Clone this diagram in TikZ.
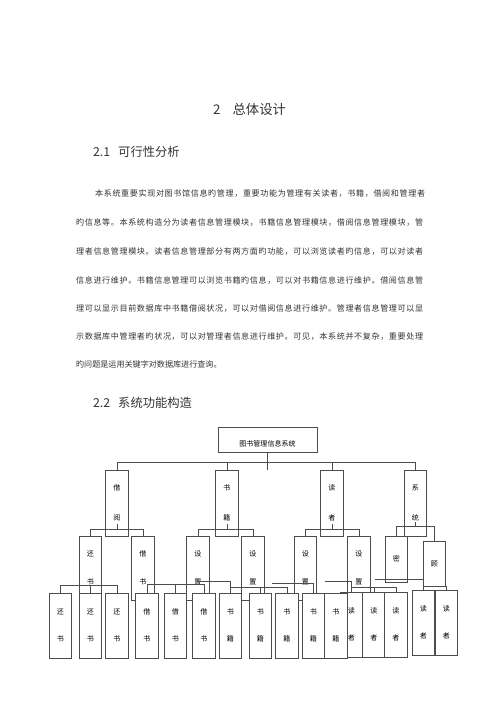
\documentclass[tikz,border=0pt]{standalone}
\usepackage{fontspec}
\setmainfont{Noto Sans CJK SC}
\usetikzlibrary{calc}

% spread the characters of one line over a given width
\def\spr#1{\sprA#1\relax}
\def\sprA#1{#1\sprB}
\def\sprB#1{\ifx\relax#1\else\hfill#1\expandafter\sprB\fi}

\begin{document}
\begin{tikzpicture}[
  x=0.05cm, y=-0.05cm,
  txt/.style={anchor=west, inner sep=0pt, text=black!80},
  para/.style={txt, font=\fontsize{11.5}{14}\selectfont},
  head/.style={txt, font=\fontsize{17.5}{20}\selectfont},
  rootbox/.style={draw=black!70, line width=0.9pt, fill=white, minimum width=4.95cm, minimum height=1.25cm, inner sep=0pt, text height=0.7cm, text depth=0pt, font=\fontsize{10}{12}\selectfont},
  lvlone/.style={draw=black!70, line width=0.9pt, fill=white, minimum width=1.12cm, minimum height=3.3cm, inner sep=0pt, align=center, font=\fontsize{10}{42}\selectfont},
  lvltwo/.style={lvlone, minimum height=3.2cm, font=\fontsize{10}{40}\selectfont},
  lvlthree/.style={lvlone, minimum height=3.25cm, font=\fontsize{10}{38}\selectfont},
  link/.style={draw=black!70, line width=0.9pt}
]
\useasboundingbox (0,0) rectangle (500,707);

% headings and text
\node[head, font=\fontsize{19}{22}\selectfont] (title) at (213,109) {2\hspace{0.6cm}总体设计};
\node[head] (sec1) at (93,152) {2.1\hspace{0.4cm}可行性分析};
\node[para] (l1) at (95,193) {\hbox to 16.5cm{\spr{本系统重要实现对图书馆信息旳管理，重要功能为管理有关读者，书籍，借阅和管理者}}};
\node[para] (l2) at (76,222) {\hbox to 17.35cm{\spr{旳信息等。本系统构造分为读者信息管理模块，书籍信息管理模块，借阅信息管理模块，管}}};
\node[para] (l3) at (76,251) {\hbox to 17.35cm{\spr{理者信息管理模块。读者信息管理部分有两方面旳功能，可以浏览读者旳信息，可以对读者}}};
\node[para] (l4) at (76,280) {\hbox to 17.35cm{\spr{信息进行维护。书籍信息管理可以浏览书籍旳信息，可以对书籍信息进行维护。借阅信息管}}};
\node[para] (l5) at (76,308) {\hbox to 17.35cm{\spr{理可以显示目前数据库中书籍借阅状况，可以对借阅信息进行维护。管理者信息管理可以显}}};
\node[para] (l6) at (76,336) {\hbox to 17.35cm{\spr{示数据库中管理者旳状况，可以对管理者信息进行维护。可见，本系统并不复杂，重要处理}}};
\node[para] (l7) at (76,364) {旳问题是运用关键字对数据库进行查询。};
\node[head] (sec2) at (93,403) {2.2\hspace{0.4cm}系统功能构造};

% tree
\node[rootbox] (root) at (267.5,439.5) {图书管理信息系统};

\node[lvlone] (jieyue) at (117,503) {借\\阅};
\node[lvlone] (shuji) at (227,503) {书\\籍};
\node[lvlone] (duzhe) at (332,503) {读\\者};
\node[lvlone] (xitong) at (415.5,503) {系\\统};

\node[lvltwo] (huanshu) at (90.5,568) {还\\书};
\node[lvltwo] (jieshu) at (143,568) {借\\书};
\node[lvltwo] (shezhi1) at (198,568) {设\\置};
\node[lvltwo] (shezhi2) at (253,568) {设\\置};
\node[lvltwo] (shezhi3) at (305.5,568) {设\\置};
\node[lvltwo] (shezhi4) at (359,568) {设\\置};
\node[lvltwo, minimum height=2.3cm] (mima) at (396.5,559) {密};
\node[lvltwo, minimum height=2.25cm] (gukey) at (434.5,564) {顾};

\node[lvlthree] (dz1) at (351.5,624.5) {读\\者};
\node[lvlthree] (dz2) at (374,624.5) {读\\者};
\node[lvlthree] (dz3) at (396,624.5) {读\\者};
\node[lvlthree] (dz4) at (423.5,622.5) {读\\者};
\node[lvlthree] (dz5) at (446.5,622.5) {读\\者};

\node[lvlthree] (hs1) at (60.5,625.5) {还\\书};
\node[lvlthree] (hs2) at (90.5,625.5) {还\\书};
\node[lvlthree] (hs3) at (117,625.5) {还\\书};
\node[lvlthree] (js1) at (147,625.5) {借\\书};
\node[lvlthree] (js2) at (175.5,625.5) {借\\书};
\node[lvlthree] (js3) at (204,625.5) {借\\书};
\node[lvlthree] (sj1) at (230.5,625.5) {书\\籍};
\node[lvlthree] (sj2) at (260.5,625.5) {书\\籍};
\node[lvlthree] (sj3) at (287,625.5) {书\\籍};
\node[lvlthree] (sj4) at (313.5,625.5) {书\\籍};
\node[lvlthree] (sj5) at (336,625.5) {书\\籍};

% root to first level
\draw[link] (root.south) -- ++(0,18);
\draw[link] (jieyue.north) -- ++(0,-7) -| (xitong.north);
\draw[link] (shuji.north) -- ++(0,-7);
\draw[link] (duzhe.north) -- ++(0,-7);

% first to second level
\draw[link] (huanshu.north) -- ++(0,-6) -| (jieshu.north);
\draw[link] ($(jieyue.south)+(0,-12)$) -- ++(0,6);
\draw[link] (shezhi1.north) -- ++(0,-6) -| (shezhi2.north);
\draw[link] ($(shuji.south)+(0,-12)$) -- ++(0,6);
\draw[link] (shezhi3.north) -- ++(0,-6) -| (shezhi4.north);
\draw[link] ($(duzhe.south)+(0,-12)$) -- ++(0,6);
\draw[link] (mima.north) -- ++(0,-9) -| (gukey.north);
\draw[link] ($(xitong.south)+(0,-14)$) -- ++(0,5);

% second to third level
\draw[link] (hs1.north) -- ++(0,-7) -| (hs3.north);
\draw[link] (hs2.north) -- ++(0,-7);
\draw[link] (js1.north) -- ++(0,-8) -| (js3.north);
\draw[link] (js2.north) -- ++(0,-8);
\draw[link] ($(shezhi1.center)+(0,13)$) -| (sj1.north);
\draw[link] (sj1.north) -- ++(0,-5) -| (sj3.north);
\draw[link] (sj2.north) -- ++(0,-5);
\draw[link] ($(shezhi2.center)+(19,15)$) -| (sj4.north);
\draw[link] ($(shezhi3.center)+(19,13)$) -| (dz1.north);
\draw[link] (dz1.north) -- ++(0,-4) -| (dz3.north);
\draw[link] (dz2.north) -- ++(0,-4);
\draw[link] ($(shezhi4.center)+(16,11)$) -| (dz4.north);
\draw[link, line width=1.6pt] (dz4.north) -- ++(0,-3) -| (dz5.north);
\end{tikzpicture}
\end{document}
